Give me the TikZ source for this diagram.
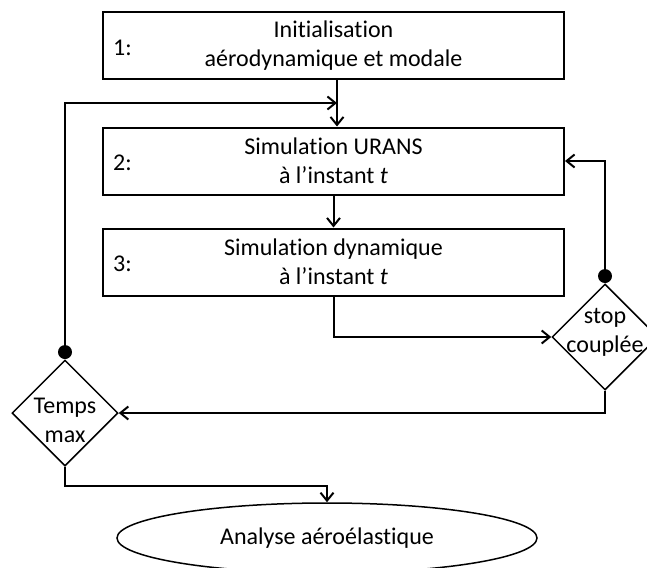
\documentclass[tikz,border=0pt]{standalone}
\usepackage{fontspec}
\setmainfont{Carlito}[Ligatures=NoCommon]
\usetikzlibrary{arrows.meta,shapes.geometric,positioning}

\begin{document}
\begin{tikzpicture}[x=1pt, y=-1pt, font=\fontsize{24}{29}\selectfont,
    box/.style = {draw, line width=2pt, minimum width=461pt, minimum height=67pt, align=center, inner sep=0pt},
    cond/.style = {draw, diamond, line width=1.5pt, minimum width=106pt, minimum height=106pt, inner sep=0pt},
    fin/.style = {draw, ellipse, line width=1.5pt, minimum width=420pt, minimum height=70pt, inner sep=0pt},
    dot/.style = {fill, circle, minimum size=14pt, inner sep=0pt},
    num/.style = {anchor=west, inner sep=0pt},
    flow/.style = {-{Straight Barb[length=8pt,width=13pt]}, line width=2pt}]
    \useasboundingbox (0,0) rectangle (647,567);
    \clip (0,0) rectangle (647,567);

    % the three steps
    \node[box] (init) at (333.5,46) {Initialisation\\aérodynamique et modale};
    \node[box] (urans) [below=46pt of init] {Simulation URANS\\à l’instant \textit{t}};
    \node[box] (dyn) [below=32pt of urans] {Simulation dynamique\\à l’instant \textit{t}};

    \node[num] (n1) at ([xshift=11pt,yshift=-2pt]init.west) {1:};
    \node[num] (n2) at ([xshift=11pt,yshift=-2pt]urans.west) {2:};
    \node[num] (n3) at ([xshift=11pt,yshift=-2pt]dyn.west) {3:};

    % tests
    \node[cond] (stop) at (605,337) {};
    \node[align=center, inner sep=0pt] (stoptxt) at (605,332.5) {stop\\couplée};
    \node[dot] (sdot) [above=0pt of stop] {};

    \node[cond] (temps) at (65,413) {};
    \node[align=center, inner sep=0pt] (tempstxt) at (65,420) {Temps\\max};
    \node[dot] (tdot) [above=0pt of temps] {};

    \node[fin] (res) at (327,538) {Analyse aéroélastique};

    % connectors
    \coordinate (j1) at (337,103);
    \draw[flow] ([xshift=3.5pt]init.south) -- ([xshift=3.5pt]urans.north);
    \draw[flow] (tdot.center) |- (j1);
    \draw[flow] (urans) -- (dyn);
    \draw[flow] (dyn.south) |- (stop.west);
    \draw[flow] (sdot.center) |- (urans.east);
    \draw[flow] (stop.south) |- (temps.east);
    \draw[flow] (temps.south) -- ++(0,19) -| (res.north);
\end{tikzpicture}
\end{document}
